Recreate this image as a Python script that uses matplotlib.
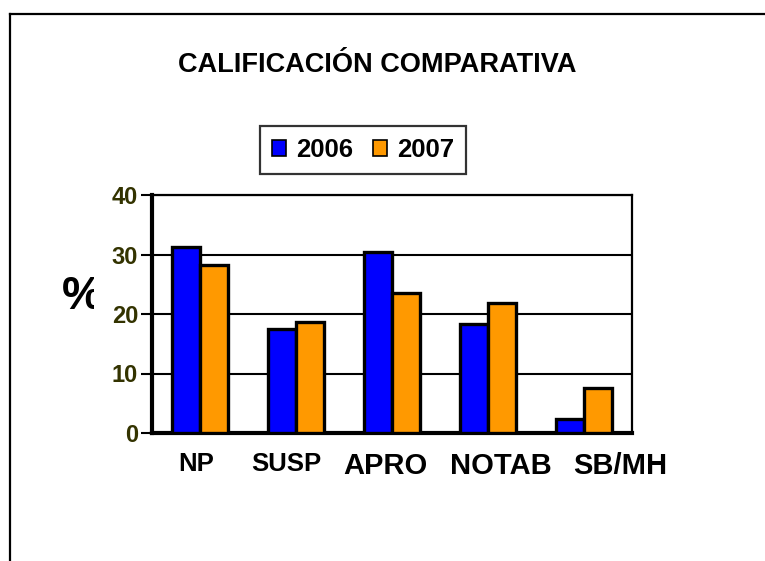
import matplotlib
matplotlib.use("Agg")
import matplotlib.pyplot as plt
import matplotlib.transforms as mtransforms
from matplotlib.lines import Line2D
import numpy as np

categories = ["NP", "SUSP", "APRO", "NOTAB", "SB/MH"]
series_names = ["2006", "2007"]
values_2006 = [31.3, 17.4, 30.5, 18.3, 2.3]
values_2007 = [28.2, 18.7, 23.5, 21.8, 7.5]
y_ticks = [0, 10, 20, 30, 40]
title_text = "CALIFICACIÓN COMPARATIVA"
y_label = "%"

plt.rcParams['font.family'] = ['Liberation Sans', 'DejaVu Sans']

W, H = 765, 561
fig = plt.figure(figsize=(W / 100, H / 100), dpi=100)
fig.patch.set_facecolor('white')

# figure border (top and left only visible)
fig.add_artist(Line2D([10 / W, 10 / W], [0, 1 - 13.5 / H], transform=fig.transFigure,
                      color='black', lw=1.6))
fig.add_artist(Line2D([10 / W, 1], [1 - 13.5 / H, 1 - 13.5 / H], transform=fig.transFigure,
                      color='black', lw=1.6))

ax = fig.add_axes([152 / W, 1 - 433 / H, 480 / W, 238 / H])
x = np.arange(len(categories))
bw = 0.29
b1 = ax.bar(x - bw / 2, values_2006, bw, color='#0000FF', edgecolor='black', linewidth=2.4,
            label=series_names[0], zorder=3)
b2 = ax.bar(x + bw / 2, values_2007, bw, color='#FF9900', edgecolor='black', linewidth=2.4,
            label=series_names[1], zorder=3)

ax.set_xlim(-0.5, len(categories) - 0.5)
ax.set_ylim(0, 40)
ax.set_yticks(y_ticks)
ax.set_yticklabels([str(t) for t in y_ticks], fontsize=17, fontweight='bold', color='#333300')
ax.yaxis.grid(True, color='black', lw=1.5, zorder=1)
ax.set_axisbelow(True)
ax.tick_params(axis='y', direction='out', length=8, width=1.5, pad=2)

ax.set_xticks(x)
ax.set_xticklabels(categories, fontweight='bold')
ax.tick_params(axis='x', length=0, pad=14)
label_sizes = [18.5, 18.5, 21, 21, 21]
label_dx = [-4, -10, -7, 13, 36]  # pixel offsets
for lab, fs, dx in zip(ax.get_xticklabels(), label_sizes, label_dx):
    lab.set_fontsize(fs)
    lab.set_transform(lab.get_transform() + mtransforms.ScaledTranslation(dx / 100, 0, fig.dpi_scale_trans))

for side in ['left', 'bottom']:
    ax.spines[side].set_linewidth(3)
for side in ['top', 'right']:
    ax.spines[side].set_linewidth(1.6)

# title
fig.text(377 / W, 1 - 65 / H, title_text, ha='center', va='center', fontsize=19.5,
         fontweight='bold')

# y label, clipped on the right like the original
yl = fig.text(82 / W, 1 - 297 / H, y_label, ha='center', va='center', fontsize=33,
              fontweight='bold')
yl.set_clip_box(mtransforms.Bbox([[0, 0], [94, H]]))
yl.set_clip_on(True)

leg = fig.legend(handles=[b1, b2], labels=series_names, loc='center',
                 bbox_to_anchor=(363 / W, 1 - 150 / H), ncol=2, frameon=True, fancybox=False,
                 prop={'weight': 'bold', 'size': 18.5}, handlelength=0.55, handleheight=0.55,
                 handletextpad=0.4, columnspacing=0.75, borderpad=0.45)
leg.get_frame().set_edgecolor('black')
leg.get_frame().set_linewidth(1.6)
for h in leg.legend_handles:
    h.set_linewidth(1.2)

fig.savefig('out.png', dpi=100)
